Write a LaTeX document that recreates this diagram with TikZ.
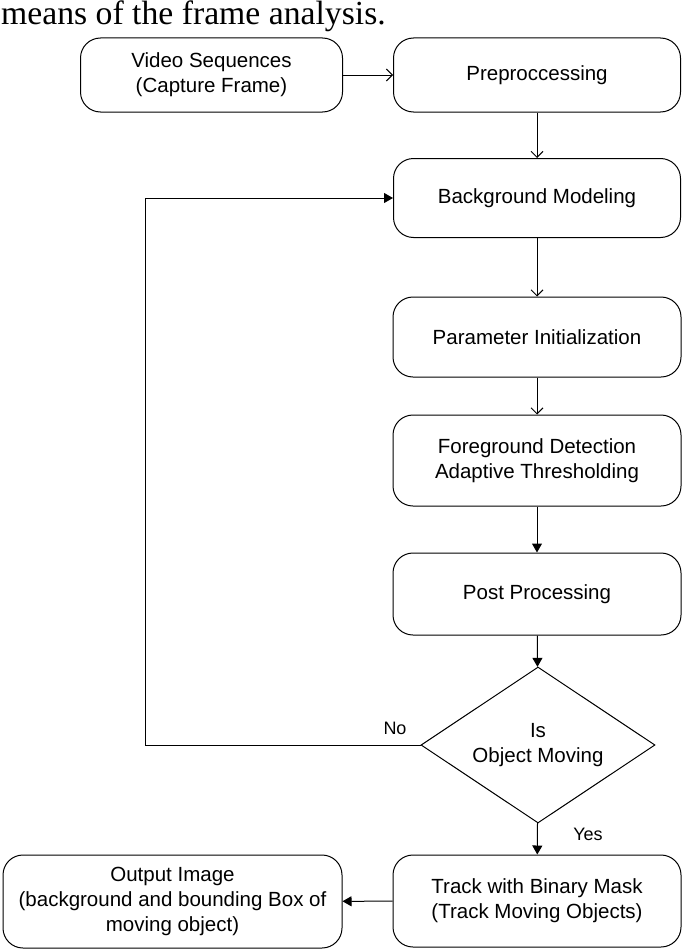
\documentclass[tikz,border=0pt]{standalone}
\usepackage{fontspec}
\setmainfont{Liberation Sans}
\newfontfamily\capfont{Liberation Serif}
\usepackage{tikz}
\usetikzlibrary{shapes.geometric, arrows.meta}
\tikzstyle{block} = [draw, rounded corners=20pt, line width=1pt, align=center, inner sep=0pt, font=\fontsize{20.5}{25}\selectfont]
\tikzstyle{decision} = [draw, diamond, shape aspect=1.5, line width=1pt, align=center, inner sep=0pt, font=\fontsize{20.5}{25}\selectfont]
\tikzstyle{openarrow} = [line width=1pt, -{Straight Barb[length=6pt,width=12pt]}]
\tikzstyle{arrow} = [line width=1pt, -{Triangle[length=9pt,width=10pt]}]
\tikzstyle{tag} = [font=\fontsize{18}{21}\selectfont, inner sep=0pt]

\begin{document}
\begin{tikzpicture}[x=1pt, y=-1pt]
        \useasboundingbox (0,0) rectangle (685,950);
        \node[anchor=base west, inner sep=0pt, font=\capfont\fontsize{33.7}{40}\selectfont] (caption) at (1,25) {means of the frame analysis.};

        \node[block, minimum width=262pt, minimum height=74pt] (video) at (211.5,75) {Video Sequences\\(Capture Frame)};
        \node[block, minimum width=287pt, minimum height=74pt] (pre) at (537,75) {Preproccessing};
        \node[block, minimum width=287pt, minimum height=79pt] (bg) at (537,198) {Background Modeling};
        \node[block, minimum width=288pt, minimum height=80pt] (param) at (537,337) {Parameter Initialization};
        \node[block, minimum width=288pt, minimum height=91pt] (fg) at (537,460.5) {Foreground Detection\\Adaptive Thresholding};
        \node[block, minimum width=288pt, minimum height=82pt] (post) at (537,594) {Post Processing};
        \node[decision, minimum width=234pt, minimum height=156pt] (moving) at (538,745) {Is\\Object Moving};
        \node[block, minimum width=288pt, minimum height=92pt] (track) at (537,901) {Track with Binary Mask\\(Track Moving Objects)};
        \node[block, minimum width=339pt, minimum height=93pt] (output) at (172.5,901.5) {Output Image\\(background and bounding Box of\\moving object)};
        \coordinate (loop) at (145,745);

        % Edges
        \draw[openarrow] (video) -- (pre);
        \draw[openarrow] (pre) -- (bg);
        \draw[openarrow] (bg) -- (param);
        \draw[openarrow] (param) -- (fg);
        \draw[arrow] (fg) -- (post);
        \draw[arrow] (post) -- (moving);
        \draw[arrow] (moving) -- (track);
        \draw[arrow] (track) -- (output);
        \draw[arrow] (moving.west) -- (loop) |- (bg.west);

        % Labels
        \node[tag] (no) at (395,728) {No};
        \node[tag] (yes) at (588,834) {Yes};
\end{tikzpicture}
\end{document}
